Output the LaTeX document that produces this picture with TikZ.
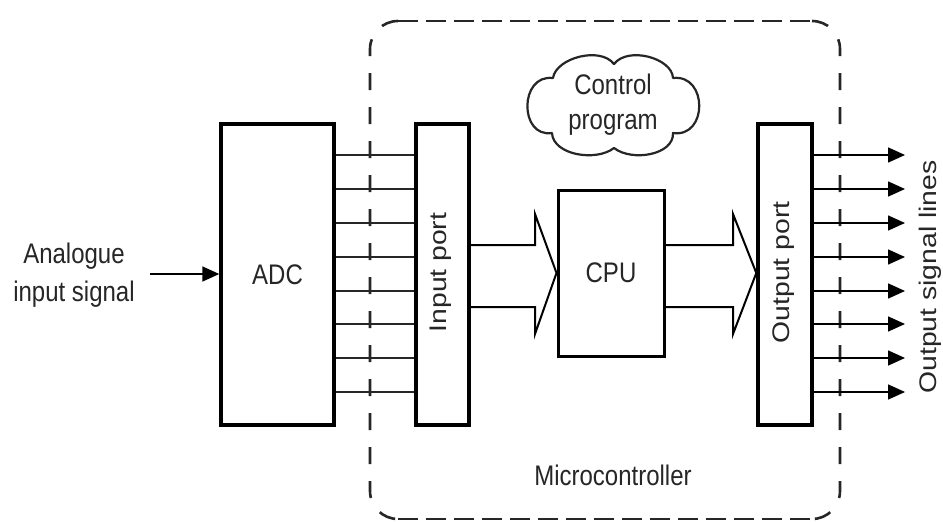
\documentclass[tikz,border=0pt]{standalone}
\usepackage{fontspec}
\setmainfont{Liberation Sans}
\usetikzlibrary{arrows.meta,calc}
\newcommand{\vtxt}[1]{\scalebox{1}[1.18]{#1}}
\newcommand{\htxt}[1]{\scalebox{1.18}[1]{#1}}
\begin{document}
\begin{tikzpicture}[x=1pt,y=-1pt,
  txt/.style={font=\fontsize{24}{33}\selectfont, text=black!85, inner sep=0pt},
  blockbox/.style={draw, line width=3.4pt, minimum width=#1, inner sep=0pt},
  wire/.style={line width=1.6pt, draw=black!85},
  sig/.style={line width=1.6pt, -{Triangle[length=17pt,width=15pt]}},
  bus/.style={line width=2pt, line join=miter},
  mcbox/.style={line width=2.6pt, draw=black!85},
  cloudline/.style={line width=2.2pt, draw=black!85}
]
\useasboundingbox (0,0) rectangle (943,522);

% microcontroller dashed outline
\draw[mcbox, dash pattern=on 20pt off 8pt] (398,21) -- (812,21);
\draw[mcbox, dash pattern=on 20pt off 8pt] (398,519) -- (812,519);
\draw[mcbox, dash pattern=on 17pt off 17pt, rounded corners=28pt] (398,21) -- (370,21) -- (370,519) -- (398,519);
\draw[mcbox, dash pattern=on 17pt off 17pt, rounded corners=28pt] (812,21) -- (840,21) -- (840,519) -- (812,519);

% blocks
\node[blockbox=113pt, minimum height=301pt] (adc) at (277.5,274.5) {};
\node[blockbox=53pt, minimum height=301pt] (inport) at (442.5,274.5) {};
\node[blockbox=106pt, minimum height=166pt, line width=3pt] (cpu) at (611,273) {};
\node[blockbox=54pt, minimum height=301pt] (outport) at (785,274.5) {};

\node[txt] (adct) at (adc.center) {\vtxt{ADC}};
\node[txt] (cput) at (cpu.center) {\vtxt{CPU}};
\node[txt, rotate=90] (inpt) at (441,272.5) {\htxt{Input port}};
\node[txt, rotate=90] (outpt) at (784,272.5) {\htxt{Output port}};

% cloud (drawn as a shape)
\draw[cloudline, line join=round]
  (553,78) .. controls (556,58) and (600,46) .. (614,64)
           .. controls (628,46) and (672,58) .. (673,78)
           .. controls (708,74) and (708,138) .. (673,133)
           .. controls (674,155) and (632,162) .. (614,148)
           .. controls (596,162) and (553,155) .. (552,133)
           .. controls (519,138) and (519,74) .. (553,78) -- cycle;
\node[txt, align=center] (cloudt) at (613,104) {\vtxt{\begin{tabular}{@{}c@{}}Control\\[-3pt]program\end{tabular}}};

% analogue input
\node[txt, align=center] (ain) at (74,275) {\vtxt{\begin{tabular}{@{}c@{}}Analogue\\[-1pt]input signal\end{tabular}}};
\coordinate (ainstart) at (150,274);
\draw[sig] (ainstart) -- (adc.west |- ainstart);

% parallel lines ADC -> input port
\foreach \yy in {155,189,223,257,291,324,358,392}{
  \draw[wire] (adc.east |- 0,\yy) -- (inport.west |- 0,\yy);
}

% output lines
\foreach \yy in {155,189,223,257,291,324,358,392}{
  \coordinate (oend) at (905,\yy);
  \draw[sig] (outport.east |- oend) -- (oend);
}

% hollow bus arrows
\draw[bus] (inport.east |- 0,245) -- (535,245) -- (535,214) -- (cpu.west) -- (535,334) -- (535,307) -- (inport.east |- 0,307);
\draw[bus] (cpu.east |- 0,245) -- (733,245) -- (733,214) -- (outport.west |- cpu.west) -- (733,334) -- (733,307) -- (cpu.east |- 0,307);

% labels
\node[txt, rotate=90] (osl) at (930,277) {\htxt{Output signal lines}};
\node[txt] (mc) at (613,475) {\vtxt{Microcontroller}};
\end{tikzpicture}
\end{document}
